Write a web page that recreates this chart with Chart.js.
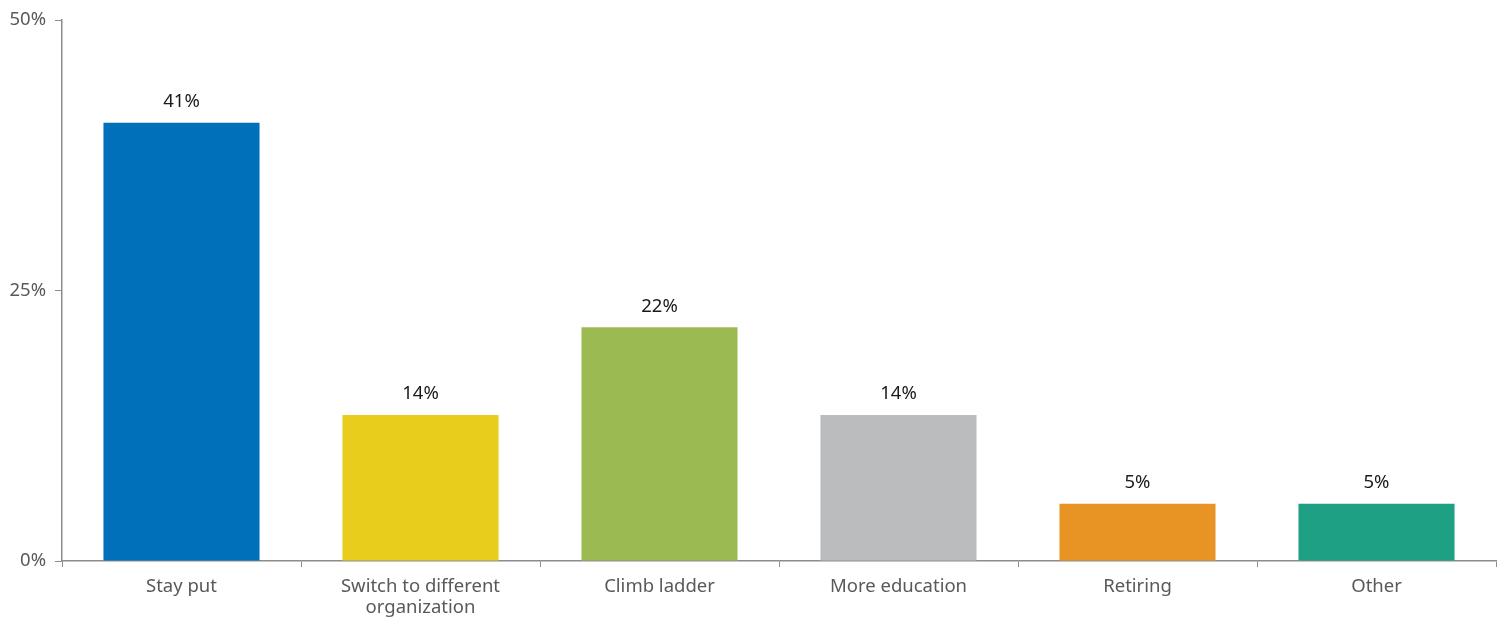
<!DOCTYPE html>
<html>
<head>
<meta charset="utf-8">
<script src="https://cdn.jsdelivr.net/npm/chart.js@4"></script>
<style>
html,body{margin:0;padding:0;background:#fff;}
#wrap{width:1504px;height:619px;position:relative;}
</style>
</head>
<body>
<div id="wrap"><canvas id="c" width="1504" height="619"></canvas></div>
<script>
const categories = [["Stay put"], ["Switch to different", "organization"], ["Climb ladder"], ["More education"], ["Retiring"], ["Other"]];
const values = [40.5, 13.5, 21.6, 13.5, 5.3, 5.3];
const valueLabels = ["41%", "14%", "22%", "14%", "5%", "5%"];
const barColors = ["#0070BA", "#E8CD1C", "#9BBB52", "#BBBCBE", "#E89425", "#1EA085"];
const yTicks = [0, 25, 50];

const FONT = 'Noto Sans';

const labelPlugin = {
  id: 'valueLabels',
  afterDatasetsDraw(chart) {
    const ctx = chart.ctx;
    const meta = chart.getDatasetMeta(0);
    ctx.save();
    ctx.font = '18.5px "' + FONT + '"';
    ctx.fillStyle = '#1a1a1a';
    ctx.textAlign = 'center';
    ctx.textBaseline = 'middle';
    meta.data.forEach((bar, i) => {
      ctx.fillText(valueLabels[i], bar.x, bar.y - 21);
    });
    ctx.restore();
  }
};

new Chart(document.getElementById('c'), {
  type: 'bar',
  data: {
    labels: categories,
    datasets: [{
      data: values,
      backgroundColor: barColors,
      borderWidth: 0,
      barPercentage: 0.653,
      categoryPercentage: 1.0
    }]
  },
  options: {
    responsive: false,
    animation: false,
    layout: { padding: { top: 20, right: 8, left: 0, bottom: 0 } },
    plugins: { legend: { display: false }, tooltip: { enabled: false } },
    scales: {
      x: {
        afterFit(scale) { scale.height = 58; },
        grid: { display: true, drawOnChartArea: false, drawTicks: true, tickLength: 6, color: '#8c8c8c', offset: true },
        border: { display: true, color: '#8c8c8c', width: 1.5 },
        ticks: { color: '#595959', font: { family: FONT, size: 18.5, lineHeight: 1.15 }, padding: 9, maxRotation: 0, autoSkip: false }
      },
      y: {
        min: 0, max: 50,
        afterFit(scale) { scale.width = 62; },
        afterBuildTicks(scale) { scale.ticks = yTicks.map(v => ({ value: v })); },
        grid: { display: true, drawOnChartArea: false, drawTicks: true, tickLength: 7, color: '#8c8c8c' },
        border: { display: true, color: '#8c8c8c', width: 1.5 },
        ticks: { color: '#595959', font: { family: FONT, size: 18.5 }, padding: 9, callback: v => v + '%' }
      }
    }
  },
  plugins: [labelPlugin]
});
</script>
</body>
</html>
